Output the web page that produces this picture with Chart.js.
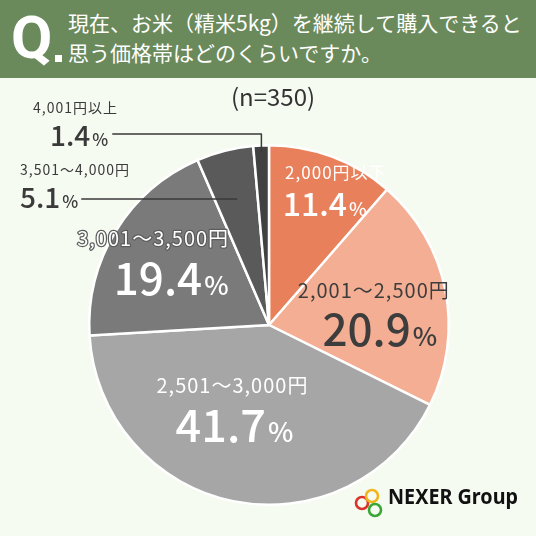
<!DOCTYPE html>
<html>
<head>
<meta charset="utf-8">
<script src="https://cdn.jsdelivr.net/npm/chart.js@4.4.1/dist/chart.umd.min.js"></script>
<style>
html, body { margin: 0; padding: 0; background: #f6fbf2; }
#wrap { position: relative; width: 536px; height: 536px; overflow: hidden; background: #f6fbf2; }
#head { position: absolute; left: 0; top: 0; width: 536px; height: 78px; background: #6b8a5c; color: #fff; }
#q { position: absolute; left: 11px; top: 3px; font: 700 60px Roboto, sans-serif; line-height: 70px; }
#dot { position: absolute; left: 55px; top: 55px; width: 7px; height: 7px; background: #fff; }
.ql { position: absolute; left: 68px; font: 400 21px "Noto Sans CJK JP", sans-serif; line-height: 28px; white-space: nowrap; }
#chart { position: absolute; left: 0; top: 0; }
</style>
</head>
<body>
<div id="wrap">
  <canvas id="chart" width="536" height="536"></canvas>
  <div id="head">
    <div id="q">Q</div><div id="dot"></div>
    <div class="ql" style="top:8px">現在、お米（精米5kg）を継続して購入できると</div>
    <div class="ql" style="top:38px">思う価格帯はどのくらいですか。</div>
  </div>
</div>
<script>
// data
const categories = ["2,000円以下", "2,001～2,500円", "2,501～3,000円", "3,001～3,500円", "3,501～4,000円", "4,001円以上"];
const shares = [11.4, 20.9, 41.7, 19.4, 5.1, 1.4];
const sliceColors = ["#e8815b", "#f4ae93", "#a7a6a6", "#7a7a7a", "#5a5a5a", "#414141"];
const sampleNote = "(n=350)";

const JP = '"Noto Sans CJK JP", sans-serif';

// label layout for slices drawn inside the pie: spot on the mid angle + nudge
const insideLabels = [
  { frac: 0.6, dx: 29, dy: -51, cat: 17, val: 32, vdx: -11, vdy: 31, color: "#fff" },
  { frac: 0.6, dx: -1, dy: -14, cat: 20, val: 44, vdx: 6, vdy: 40, color: "#3d3d3d" },
  { frac: 0.6, dx: -15, dy: -45, cat: 20, val: 45, vdx: 2, vdy: 40, color: "#fff" },
  { frac: 0.6, dx: -24, dy: -30, cat: 20, val: 44, vdx: 18, vdy: 41, color: "#fff", outline: "#5c5c5c" }
];

function polar(arc, frac, ang) {
  const a = ang === undefined ? (arc.startAngle + arc.endAngle) / 2 : ang;
  const r = arc.outerRadius * frac;
  return { x: arc.x + Math.cos(a) * r, y: arc.y + Math.sin(a) * r };
}

// big number with a smaller % after it; align 'center' or 'left'
function drawValue(ctx, v, x, y, size, color, align) {
  const num = v.toFixed(1);
  const ps = Math.round(size * 0.6);
  ctx.letterSpacing = "0px";
  ctx.font = "500 " + size + "px " + JP;
  const w1 = ctx.measureText(num).width;
  ctx.font = "500 " + ps + "px " + JP;
  const w2 = ctx.measureText("%").width;
  let left = align === "left" ? x : x - (w1 + w2 + 2) / 2;
  ctx.textAlign = "left";
  ctx.textBaseline = "alphabetic";
  ctx.fillStyle = color;
  const base = y + size * 0.36;
  ctx.font = "500 " + size + "px " + JP;
  ctx.fillText(num, left, base);
  ctx.font = "500 " + ps + "px " + JP;
  ctx.fillText("%", left + w1 + 2, base);
  return left + w1 + 2 + w2;
}

const labelPlugin = {
  id: "sliceLabels",
  afterDatasetsDraw(chart) {
    const ctx = chart.ctx;
    const arcs = chart.getDatasetMeta(0).data;
    ctx.save();

    insideLabels.forEach((l, i) => {
      const p = polar(arcs[i], l.frac);
      const cx = p.x + l.dx, cy = p.y + l.dy;
      ctx.font = "400 " + l.cat + "px " + JP;
      ctx.letterSpacing = "1px";
      ctx.textAlign = "center";
      ctx.textBaseline = "middle";
      if (l.outline) {
        ctx.strokeStyle = l.outline;
        ctx.lineWidth = 2.5;
        ctx.lineJoin = "round";
        ctx.strokeText(categories[i], cx, cy);
      }
      ctx.fillStyle = l.color;
      ctx.fillText(categories[i], cx, cy);
      drawValue(ctx, shares[i], cx + l.vdx, cy + l.vdy, l.val, l.color, "center");
    });

    // outside labels with leader lines
    ctx.strokeStyle = "#3a3a3a";
    ctx.lineWidth = 1.5;
    ctx.fillStyle = "#3a3a3a";
    ctx.textAlign = "left";
    ctx.textBaseline = "middle";

    ctx.font = "400 14px " + JP;
    ctx.letterSpacing = "1px";
    ctx.fillText(categories[4], 20, 170);
    const end5 = drawValue(ctx, shares[4], 20, 198, 28, "#3a3a3a", "left");
    const p5 = polar(arcs[4], 0.72);
    ctx.beginPath();
    ctx.moveTo(end5 + 3, 199);
    ctx.lineTo(p5.x, 199);
    ctx.stroke();

    ctx.textBaseline = "middle";
    ctx.font = "400 14px " + JP;
    ctx.letterSpacing = "1px";
    ctx.fillText(categories[5], 33, 108);
    const end6 = drawValue(ctx, shares[5], 50, 136, 28, "#3a3a3a", "left");
    const p6 = polar(arcs[5], 0.96);
    ctx.beginPath();
    ctx.moveTo(end6 + 4, 134);
    ctx.lineTo(p6.x, 134);
    ctx.lineTo(p6.x, p6.y);
    ctx.stroke();

    // sample size
    ctx.fillStyle = "#333";
    ctx.letterSpacing = "0px";
    ctx.font = "400 24px " + JP;
    ctx.textAlign = "center";
    ctx.fillText(sampleNote, 273, 106);

    // logo
    const rings = [["#d9332b", 362, 503], ["#f1b51c", 372, 496], ["#3aa635", 375, 510]];
    ctx.lineWidth = 2.6;
    rings.forEach(r => {
      ctx.strokeStyle = r[0];
      ctx.beginPath();
      ctx.arc(r[1], r[2], 6, 0, Math.PI * 2);
      ctx.stroke();
    });
    ctx.fillStyle = "#111";
    ctx.textAlign = "left";
    ctx.font = "700 22px 'Noto Sans', sans-serif";
    ctx.fillText("NEXER Group", 388, 504, 130);
    ctx.restore();
  }
};

new Chart(document.getElementById("chart"), {
  type: "pie",
  data: {
    labels: categories,
    datasets: [{
      data: shares,
      backgroundColor: sliceColors,
      borderColor: "#ffffff",
      borderWidth: 2.5
    }]
  },
  options: {
    responsive: false,
    animation: false,
    layout: { padding: { left: 88, right: 86, top: 144, bottom: 30 } },
    plugins: {
      legend: { display: false },
      tooltip: { enabled: false }
    }
  },
  plugins: [labelPlugin]
});
</script>
</body>
</html>
